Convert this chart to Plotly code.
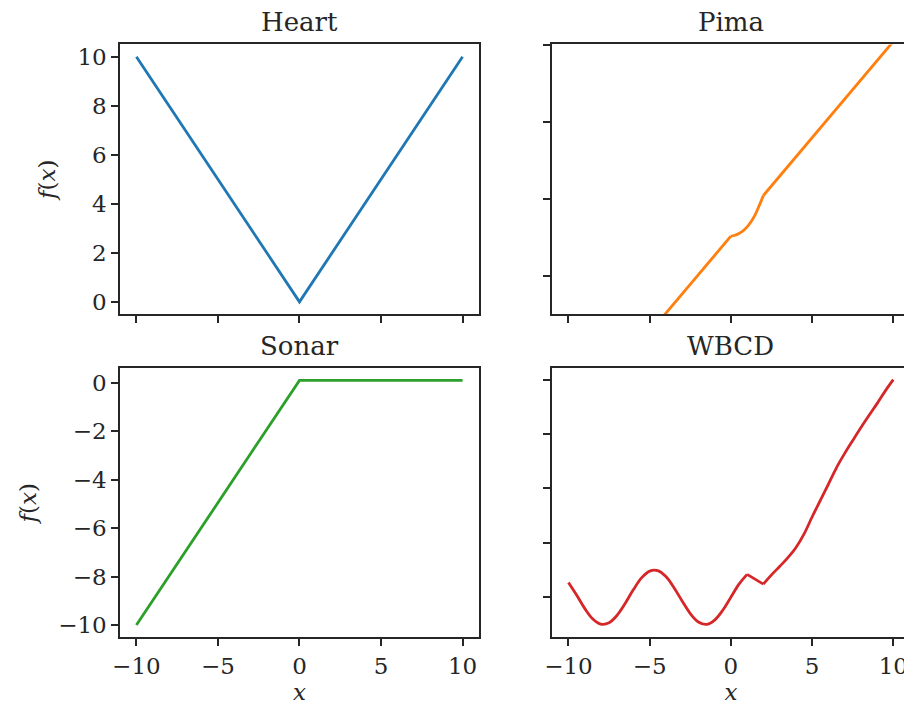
import plotly.graph_objects as go

# ---------------- data ----------------
titles = ["Heart", "Pima", "Sonar", "WBCD"]

heart_x = [-10, 0, 10]
heart_y = [10, 0, 10]

sonar_x = [-10, 0, 10]
sonar_y = [-10, 0.1, 0.1]

pima_x = [-10, -4, -2, 0, 0.25, 0.5, 0.75, 1.0, 1.25, 1.5, 1.75, 2.0, 4, 6, 8, 10]
pima_y = [-9.9, -2.4, 0.1, 2.6, 2.66, 2.78, 2.95, 3.2, 3.55, 4.0, 4.6, 5.24, 7.74, 10.24, 12.74, 15.24]

wbcd_x = [-10, -9.5, -9, -8.5, -8, -7.5, -7, -6.5, -6, -5.5, -5, -4.5, -4, -3.5, -3,
          -2.5, -2, -1.5, -1, -0.5, 0, 0.5, 1, 1.5, 2, 2.5, 3, 3.5, 4, 4.5, 5, 5.5,
          6, 6.5, 7, 7.5, 8, 8.5, 9, 9.5, 10]
wbcd_y = [-7.46, -7.92, -8.41, -8.80, -8.99, -8.94, -8.66, -8.22, -7.72, -7.29, -7.04,
          -7.02, -7.24, -7.65, -8.14, -8.60, -8.91, -9.00, -8.84, -8.48, -8.00, -7.52,
          -7.16, -7.33, -7.52, -7.18, -6.87, -6.55, -6.18, -5.68, -5.05, -4.45, -3.85,
          -3.24, -2.72, -2.24, -1.77, -1.32, -0.88, -0.42, 0.0]

x_ticks = [-10, -5, 0, 5, 10]
x_ticktext = ["\u221210", "\u22125", "0", "5", "10"]
heart_ticks = [0, 2, 4, 6, 8, 10]
sonar_ticks = [-10, -8, -6, -4, -2, 0]
sonar_ticktext = ["\u221210", "\u22128", "\u22126", "\u22124", "\u22122", "0"]
pima_ticks = [0, 5, 10, 15]
wbcd_ticks = [-8, -6, -4, -2, 0]

colors = ["#1f77b4", "#ff7f0e", "#2ca02c", "#d62728"]

# ---------------- figure ----------------
# page body has an 8px margin, so the figure is 904x697 and offset by 8px
W, H = 904, 697
FONT = "DejaVu Serif"
INK = "#262626"

xdom_l = [105 / W, 467 / W]
xdom_r = [541 / W, 901.5 / W]
ydom_t = [1 - 306 / H, 1 - 35.5 / H]
ydom_b = [1 - 630 / H, 1 - 360.3 / H]

fig = go.Figure()
LW = 2.8


def add(x, y, xa, ya, color, shape="linear"):
    fig.add_trace(go.Scatter(x=x, y=y, mode="lines", xaxis=xa, yaxis=ya,
                             line=dict(color=color, width=LW, shape=shape),
                             showlegend=False, hoverinfo="skip"))


add(heart_x, heart_y, "x", "y", colors[0])
# Pima: straight, smooth bump, straight
add(pima_x[:4], pima_y[:4], "x2", "y2", colors[1])
add(pima_x[3:12], pima_y[3:12], "x2", "y2", colors[1], "spline")
add(pima_x[11:], pima_y[11:], "x2", "y2", colors[1])
add(sonar_x, sonar_y, "x3", "y3", colors[2])
# WBCD: smooth wave, short straight pieces, smooth rise
add(wbcd_x[:23], wbcd_y[:23], "x4", "y4", colors[3], "spline")
add(wbcd_x[22:25], wbcd_y[22:25], "x4", "y4", colors[3])
add(wbcd_x[24:], wbcd_y[24:], "x4", "y4", colors[3], "spline")

TICK_SIZE = 23
LABEL_SIZE = 23
TITLE_SIZE = 26

axis_common = dict(showline=True, mirror=True, linecolor=INK, linewidth=1.5,
                   ticks="outside", ticklen=7, tickwidth=1.5, tickcolor=INK,
                   showgrid=False, zeroline=False, fixedrange=True,
                   tickfont=dict(family=FONT, size=TICK_SIZE, color=INK))

xtitle = dict(text="<i>x</i>", font=dict(family=FONT, size=LABEL_SIZE, color=INK), standoff=5)
ytitle = dict(text="<i>f</i>(<i>x</i>)", font=dict(family=FONT, size=LABEL_SIZE, color=INK), standoff=15)

xr = [-11, 11]
fig.update_layout(
    width=W, height=H,
    margin=dict(l=0, r=0, t=0, b=0),
    paper_bgcolor="white", plot_bgcolor="white",
    xaxis=dict(axis_common, domain=xdom_l, anchor="y", range=xr, tickvals=x_ticks,
               showticklabels=False),
    xaxis2=dict(axis_common, domain=xdom_r, anchor="y2", range=xr, tickvals=x_ticks,
                showticklabels=False),
    xaxis3=dict(axis_common, domain=xdom_l, anchor="y3", range=xr, tickvals=x_ticks,
                ticktext=x_ticktext, ticklabelstandoff=0, title=xtitle),
    xaxis4=dict(axis_common, domain=xdom_r, anchor="y4", range=xr, tickvals=x_ticks,
                ticktext=x_ticktext, ticklabelstandoff=0, title=xtitle),
    yaxis=dict(axis_common, domain=ydom_t, anchor="x", range=[-0.5, 10.5],
               tickvals=heart_ticks, ticklabelstandoff=0, title=ytitle),
    yaxis2=dict(axis_common, domain=ydom_t, anchor="x2", range=[-2.46, 15.05],
                tickvals=pima_ticks, showticklabels=False),
    yaxis3=dict(axis_common, domain=ydom_b, anchor="x3", range=[-10.5, 0.6],
                tickvals=sonar_ticks, ticktext=sonar_ticktext, ticklabelstandoff=0,
                title=ytitle),
    yaxis4=dict(axis_common, domain=ydom_b, anchor="x4", range=[-9.47, 0.42],
                tickvals=wbcd_ticks, showticklabels=False),
)

centers = [sum(xdom_l) / 2, sum(xdom_r) / 2]
tops = [ydom_t[1], ydom_b[1]]
for i, t in enumerate(titles):
    r, c = divmod(i, 2)
    fig.add_annotation(text=t, x=centers[c], y=tops[r], xref="paper", yref="paper",
                       xanchor="center", yanchor="bottom", yshift=5, showarrow=False,
                       font=dict(family=FONT, size=TITLE_SIZE, color=INK))

fig.write_html("out.html")
